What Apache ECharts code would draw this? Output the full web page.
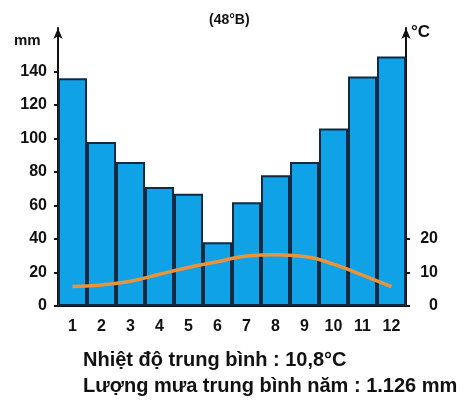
<!DOCTYPE html>
<html>
<head>
<meta charset="utf-8">
<script src="https://cdn.jsdelivr.net/npm/echarts@6/dist/echarts.min.js"></script>
<style>
html,body{margin:0;padding:0;background:#fff;}
#main{width:466px;height:412px;}
</style>
</head>
<body>
<div id="main"></div>
<script>
// tháng, lượng mưa (mm), nhiệt độ (°C)
let months = ['1','2','3','4','5','6','7','8','9','10','11','12'];
let rain = [136, 98, 86, 71, 67, 38, 62, 78, 86, 106, 137, 149];
let temp = [5.8, 6.3, 7.4, 9.5, 11.5, 13.2, 14.9, 15.3, 14.8, 12.5, 9.2, 5.8];
let rainTicks = [0, 20, 40, 60, 80, 100, 120, 140];
let tempTicks = [0, 10, 20];

window.addEventListener('load', function () {
    let chart = echarts.init(document.getElementById('main'));
    let font = 'Liberation Sans';
    let option = {
        backgroundColor: '#fff',
        animation: false,
        grid: {left: 58, right: 60, top: 28, bottom: 106},
        xAxis: {
            type: 'category',
            data: months,
            axisLine: {lineStyle: {color: '#111', width: 2}},
            axisTick: {show: false},
            axisLabel: {color: '#111', fontFamily: font, fontWeight: 'bold', fontSize: 16, margin: 13}
        },
        yAxis: [
            {
                type: 'value', min: 0, max: 166, interval: 20,
                splitLine: {show: false},
                axisLine: {show: true, symbol: ['none', 'arrow'], symbolSize: [7, 11], lineStyle: {color: '#111', width: 2}},
                axisTick: {show: true, length: 4, customValues: rainTicks, lineStyle: {color: '#111', width: 2}},
                axisLabel: {customValues: rainTicks, color: '#111', fontFamily: font, fontWeight: 'bold', fontSize: 16, margin: 11}
            },
            {
                type: 'value', min: 0, max: 83, interval: 10,
                position: 'right',
                splitLine: {show: false},
                axisLine: {show: true, symbol: ['none', 'arrow'], symbolSize: [7, 11], lineStyle: {color: '#111', width: 2}},
                axisTick: {show: true, length: 4, customValues: tempTicks, lineStyle: {color: '#111', width: 2}},
                axisLabel: {customValues: tempTicks, color: '#111', fontFamily: font, fontWeight: 'bold', fontSize: 16, margin: 32, align: 'right'}
            }
        ],
        series: [
            {
                name: 'Lượng mưa',
                type: 'bar',
                data: rain,
                barCategoryGap: 0,
                itemStyle: {color: '#10a2e6', borderColor: '#102a44', borderWidth: 2}
            },
            {
                name: 'Nhiệt độ',
                type: 'line',
                yAxisIndex: 1,
                data: temp,
                smooth: true,
                symbol: 'none',
                lineStyle: {color: '#e8943c', width: 3.5}
            }
        ],
        graphic: [
            {type: 'text', left: 209, top: 13, style: {text: '(48°B)', font: 'bold 14px "Liberation Sans"', fill: '#111'}},
            {type: 'text', left: 14, top: 33, style: {text: 'mm', font: 'bold 15px "Liberation Sans"', fill: '#111'}},
            {type: 'text', left: 411, top: 24, style: {text: '°C', font: 'bold 17px "Liberation Sans"', fill: '#111'}},
            {type: 'text', left: 83, top: 350, style: {text: 'Nhiệt độ trung bình : 10,8°C', font: 'bold 20px "Liberation Sans"', fill: '#111'}},
            {type: 'text', left: 83, top: 376, style: {text: 'Lượng mưa trung bình năm : 1.126 mm', font: 'bold 20px "Liberation Sans"', fill: '#111'}}
        ]
    };
    chart.setOption(option);
});
</script>
</body>
</html>
